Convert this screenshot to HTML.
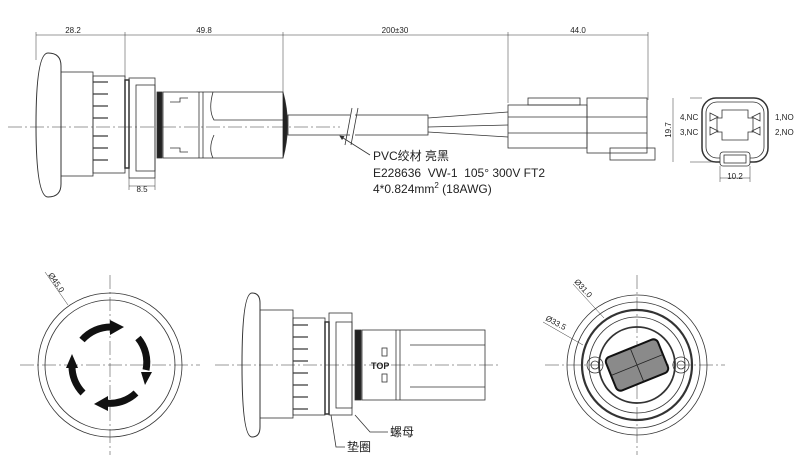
<!DOCTYPE html>
<html><head><meta charset="utf-8"><style>
html,body{margin:0;padding:0;background:#fff;width:800px;height:469px;overflow:hidden}
svg{display:block}
text{font-family:"Liberation Sans","Noto Sans CJK SC",sans-serif;fill:#222}
</style></head><body>
<svg width="800" height="469" viewBox="0 0 800 469" xmlns="http://www.w3.org/2000/svg">
<defs><marker id="a" markerWidth="6" markerHeight="6" refX="5" refY="3" orient="auto"><path d="M0,0L6,3L0,6z" fill="#333"/></marker></defs>
<g fill="none" stroke="#333" stroke-width="0.8">
<line x1="36" y1="35" x2="648" y2="35" stroke-width="0.6"/>
<line x1="36" y1="32" x2="36" y2="60" stroke-width="0.5"/>
<line x1="125" y1="32" x2="125" y2="78" stroke-width="0.5"/>
<line x1="283" y1="32" x2="283" y2="95" stroke-width="0.5"/>
<line x1="508" y1="32" x2="508" y2="103" stroke-width="0.5"/>
<line x1="648" y1="32" x2="648" y2="100" stroke-width="0.5"/>
<line x1="8" y1="127" x2="340" y2="127" stroke-width="0.6" stroke-dasharray="14,3,2,3"/>
<path d="M48,53 Q61,53 61,66 L61,184 Q61,197 48,197 Q36,197 36,125 Q36,53 48,53z" stroke-width="1"/>
<rect x="61" y="72" width="32" height="104"/>
<rect x="93" y="76" width="32" height="97"/>
<g stroke-width="1.2">
<line x1="93" y1="82" x2="108" y2="82"/><line x1="93" y1="94" x2="108" y2="94"/><line x1="93" y1="106" x2="108" y2="106"/><line x1="93" y1="118" x2="108" y2="118"/><line x1="93" y1="136" x2="108" y2="136"/><line x1="93" y1="148" x2="108" y2="148"/><line x1="93" y1="160" x2="108" y2="160"/>
</g>
<rect x="125" y="80" width="4" height="88" stroke-width="1.5"/>
<rect x="129" y="78" width="26" height="100"/>
<rect x="136" y="85" width="19" height="86"/>
<line x1="129" y1="186" x2="155" y2="186" stroke-width="0.5"/><line x1="129" y1="178" x2="129" y2="190" stroke-width="0.5"/><line x1="155" y1="178" x2="155" y2="190" stroke-width="0.5"/>
<rect x="157" y="92" width="5" height="66" fill="#222"/>
<rect x="163" y="92" width="120" height="66"/>
<line x1="199" y1="92" x2="199" y2="158"/><line x1="203" y1="92" x2="203" y2="158"/>
<path d="M213,92 Q208,110 214,120 L283,120 M214,135 Q208,148 213,158"/>
<path d="M170,102 l10,0 l0,-4 l8,0 M170,148 l10,0 l0,4 l8,0"/>
<path d="M283,92 Q292,125 283,158" fill="#222"/>
<rect x="288" y="115" width="140" height="20"/>
<rect x="350" y="113" width="5" height="24" fill="#fff" stroke="none"/>
<line x1="345" y1="145" x2="352" y2="108"/><line x1="351" y1="145" x2="358" y2="108"/>
<path d="M428,118 L508,112 M428,127 L508,125 M428,132 L508,137"/>
<rect x="508" y="105" width="79" height="43"/>
<rect x="587" y="98" width="60" height="55"/>
<line x1="508" y1="117" x2="647" y2="117"/><line x1="508" y1="133" x2="647" y2="133"/>
<rect x="528" y="98" width="52" height="7"/>
<rect x="610" y="148" width="45" height="12"/>
<line x1="370" y1="155" x2="340" y2="136" marker-end="url(#a)"/>
<rect x="702" y="98" width="66" height="64" rx="14" stroke-width="1.5"/>
<rect x="706" y="102" width="58" height="56" rx="11"/>
<path d="M722,110 h26 v8 h5 v14 h-5 v8 h-26 v-8 h-5 v-14 h5 z"/>
<path d="M710,113 l8,4 l-8,4z M710,127 l8,4 l-8,4z M760,113 l-8,4 l8,4z M760,127 l-8,4 l8,4z"/>
<rect x="720" y="152" width="30" height="14" rx="3" fill="#fff"/>
<rect x="724" y="155" width="22" height="8"/>
<line x1="690" y1="98" x2="702" y2="98" stroke-width="0.5"/><line x1="690" y1="162" x2="720" y2="162" stroke-width="0.5"/>
<line x1="673" y1="98" x2="673" y2="162" stroke-width="0.5"/>
<line x1="720" y1="166" x2="720" y2="182" stroke-width="0.5"/><line x1="750" y1="166" x2="750" y2="182" stroke-width="0.5"/>
<line x1="720" y1="178" x2="750" y2="178" stroke-width="0.5"/>
<line x1="20" y1="365" x2="200" y2="365" stroke-width="0.5" stroke-dasharray="14,3,2,3"/>
<line x1="110" y1="275" x2="110" y2="455" stroke-width="0.5" stroke-dasharray="14,3,2,3"/>
<circle cx="110" cy="365" r="72"/><circle cx="110" cy="365" r="65"/>
<line x1="45" y1="272" x2="68" y2="305" stroke-width="0.5"/>
<g stroke="#111" stroke-width="7" fill="none">
<path d="M82,340 A38,38 0 0 1 112,327"/>
<path d="M138,338 A38,38 0 0 1 146,370"/>
<path d="M136,393 A38,38 0 0 1 105,403"/>
<path d="M83,393 A38,38 0 0 1 72,365"/>
</g>
<g fill="#111" stroke="none">
<path d="M110,320 l14,7 l-14,8z"/><path d="M141,372 l11,0 l-7,13z"/><path d="M108,396 l-14,8 l14,7z"/><path d="M66,368 l12,0 l-6,-14z"/>
</g>
<line x1="215" y1="365" x2="500" y2="365" stroke-width="0.5" stroke-dasharray="14,3,2,3"/>
<path d="M252,293 Q260,293 260,303 L260,427 Q260,437 252,437 Q242,437 242,365 Q242,293 252,293z" stroke-width="1"/>
<rect x="260" y="310" width="33" height="108"/>
<rect x="293" y="318" width="32" height="97"/>
<g stroke-width="1.2">
<line x1="293" y1="325" x2="308" y2="325"/><line x1="293" y1="337" x2="308" y2="337"/><line x1="293" y1="349" x2="308" y2="349"/><line x1="293" y1="361" x2="308" y2="361"/><line x1="293" y1="373" x2="308" y2="373"/><line x1="293" y1="385" x2="308" y2="385"/><line x1="293" y1="397" x2="308" y2="397"/><line x1="293" y1="409" x2="308" y2="409"/>
</g>
<rect x="325" y="322" width="4" height="92" stroke-width="1.5"/>
<rect x="329" y="313" width="23" height="102"/>
<rect x="336" y="322" width="16" height="86"/>
<rect x="355" y="330" width="6" height="70" fill="#222"/>
<rect x="362" y="330" width="123" height="70"/>
<line x1="396" y1="330" x2="396" y2="400"/><line x1="400" y1="330" x2="400" y2="400"/>
<rect x="382" y="348" width="5" height="8"/><rect x="382" y="374" width="5" height="8"/>
<path d="M410,345 l75,0 M410,387 l75,0"/>
<path d="M331,415 L336,447 L345,447 M355,415 L370,432 L388,432"/>
<line x1="545" y1="365" x2="725" y2="365" stroke-width="0.5" stroke-dasharray="14,3,2,3"/>
<line x1="637" y1="275" x2="637" y2="455" stroke-width="0.5" stroke-dasharray="14,3,2,3"/>
<circle cx="637" cy="365" r="70"/><circle cx="637" cy="365" r="63"/>
<circle cx="637" cy="365" r="55" stroke-width="2.2"/><circle cx="637" cy="365" r="48"/>
<circle cx="637" cy="365" r="38" stroke-width="1.8"/>
<circle cx="595" cy="365" r="8"/><circle cx="595" cy="365" r="4"/>
<circle cx="681" cy="365" r="8"/><circle cx="681" cy="365" r="4"/>
<g transform="rotate(-22 637 365)">
<rect x="609" y="347" width="56" height="36" rx="5" fill="#8a8a8a" stroke="#111" stroke-width="2"/>
<line x1="637" y1="347" x2="637" y2="383" stroke="#222"/><line x1="609" y1="365" x2="665" y2="365" stroke="#222"/>
</g>
<line x1="573" y1="284" x2="604" y2="318" stroke-width="0.5"/>
<line x1="543" y1="322" x2="583" y2="345" stroke-width="0.5"/>
</g>
<g font-size="8">
<text x="73" y="33" text-anchor="middle">28.2</text>
<text x="204" y="33" text-anchor="middle">49.8</text>
<text x="395" y="33" text-anchor="middle">200±30</text>
<text x="578" y="33" text-anchor="middle">44.0</text>
<text x="142" y="192" text-anchor="middle">8.5</text>
<text x="735" y="179" text-anchor="middle">10.2</text>
<text transform="translate(671 130) rotate(-90)" text-anchor="middle">19.7</text>
<text x="680" y="120">4,NC</text><text x="680" y="135">3,NC</text>
<text x="775" y="120">1,NO</text><text x="775" y="135">2,NO</text>
<text transform="translate(48 275) rotate(56)">Ø45.0</text>
<text transform="translate(574 282) rotate(48)">Ø31.0</text>
<text transform="translate(545 320) rotate(28)">Ø33.5</text>
</g>
<g font-size="12">
<text x="373" y="160">PVC绞材 亮黑</text>
<text x="373" y="177">E228636&#160; VW-1&#160; 105° 300V FT2</text>
<text x="373" y="193">4*0.824mm<tspan font-size="8" dy="-5">2</tspan><tspan dy="5"> (18AWG)</tspan></text>
<text x="390" y="436">螺母</text>
<text x="347" y="451">垫圈</text>
</g>
<text x="371" y="369" font-size="9" font-weight="bold">TOP</text>
</svg>
</body></html>
